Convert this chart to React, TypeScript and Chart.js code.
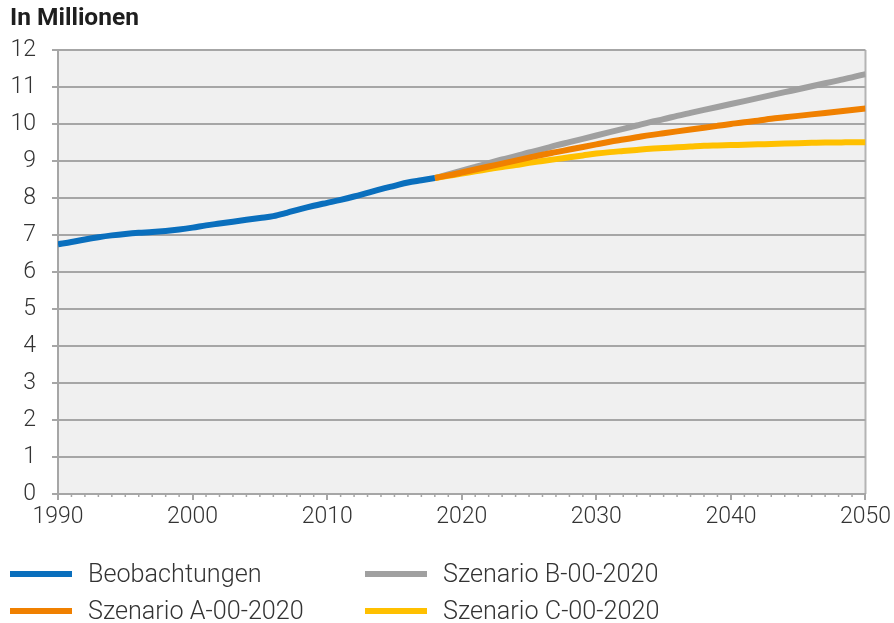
import React, { useEffect, useRef } from "react";
import { Chart, registerables } from "chart.js";

Chart.register(...registerables);

const obsYears = [1990,1991,1992,1993,1994,1995,1996,1997,1998,1999,2000,2001,2002,2003,2004,2005,2006,2007,2008,2009,2010,2011,2012,2013,2014,2015,2016,2017,2018];
const obsValues = [6.75,6.81,6.88,6.94,6.99,7.03,7.06,7.08,7.11,7.15,7.20,7.26,7.31,7.36,7.41,7.46,7.51,7.60,7.70,7.79,7.87,7.95,8.04,8.14,8.24,8.33,8.42,8.48,8.54];

const scenYears = [2018,2019,2020,2021,2022,2023,2024,2025,2026,2027,2028,2029,2030,2031,2032,2033,2034,2035,2036,2037,2038,2039,2040,2041,2042,2043,2044,2045,2046,2047,2048,2049,2050];
const scenA = [8.54,8.61,8.69,8.77,8.85,8.93,9.01,9.09,9.17,9.24,9.31,9.38,9.45,9.52,9.58,9.64,9.70,9.75,9.80,9.85,9.90,9.95,10.00,10.05,10.09,10.14,10.18,10.22,10.26,10.30,10.34,10.38,10.42];
const scenB = [8.54,8.64,8.74,8.84,8.94,9.04,9.13,9.23,9.32,9.42,9.51,9.60,9.69,9.78,9.87,9.96,10.05,10.13,10.22,10.30,10.38,10.46,10.54,10.62,10.70,10.78,10.86,10.94,11.02,11.10,11.18,11.26,11.35];
const scenC = [8.54,8.60,8.66,8.72,8.78,8.84,8.89,8.95,9.00,9.05,9.10,9.15,9.20,9.24,9.27,9.30,9.33,9.35,9.37,9.39,9.41,9.42,9.43,9.44,9.45,9.46,9.47,9.48,9.49,9.50,9.50,9.51,9.51];

const seriesNames = ["Beobachtungen", "Szenario A-00-2020", "Szenario B-00-2020", "Szenario C-00-2020"];
const seriesColors = ["#0a6fbd", "#f08000", "#a0a0a0", "#ffc000"];

const xMin = 1990;
const xMax = 2050;
const yMin = 0;
const yMax = 12;

const FONT = "Roboto, 'Noto Sans', sans-serif";
const TEXT = "#333333";
const GRID = "#a6a6a6";

const pts = (xs: number[], ys: number[]) => xs.map((x, i) => ({ x, y: ys[i] }));

const bgPlugin = {
  id: "plotBg",
  beforeDraw(chart: any) {
    const { ctx, chartArea } = chart;
    ctx.save();
    ctx.fillStyle = "#f0f0f0";
    ctx.fillRect(chartArea.left, chartArea.top, chartArea.right - chartArea.left, chartArea.bottom - chartArea.top);
    ctx.strokeStyle = "#b4b4b4";
    ctx.lineWidth = 2;
    ctx.beginPath();
    ctx.moveTo(chartArea.right, chartArea.top);
    ctx.lineTo(chartArea.right, chartArea.bottom);
    ctx.stroke();
    ctx.restore();
  },
  afterDraw(chart: any) {
    const { ctx, chartArea } = chart;
    const xs = chart.scales.x;
    ctx.save();
    ctx.strokeStyle = GRID;
    ctx.lineWidth = 1.5;
    for (let yr = xMin; yr <= xMax; yr++) {
      if (yr % 10 === 0) continue;
      const px = xs.getPixelForValue(yr);
      ctx.beginPath();
      ctx.moveTo(px, chartArea.bottom);
      ctx.lineTo(px, chartArea.bottom + 3);
      ctx.stroke();
    }
    ctx.restore();
  },
};

export default function App() {
  const ref = useRef<HTMLCanvasElement>(null);
  useEffect(() => {
    if (!ref.current) return;
    const chart = new Chart(ref.current, {
      type: "line",
      data: {
        datasets: [
          { label: seriesNames[0], data: pts(obsYears, obsValues), borderColor: seriesColors[0], order: 0 },
          { label: seriesNames[1], data: pts(scenYears, scenA), borderColor: seriesColors[1], order: 1 },
          { label: seriesNames[2], data: pts(scenYears, scenB), borderColor: seriesColors[2], order: 3 },
          { label: seriesNames[3], data: pts(scenYears, scenC), borderColor: seriesColors[3], order: 2 },
        ].map((d) => ({ ...d, borderWidth: 6, pointRadius: 0, cubicInterpolationMode: "monotone" as const, fill: false, borderCapStyle: "butt" as const })),
      },
      options: {
        animation: false,
        responsive: false,
        maintainAspectRatio: false,
        layout: { padding: { top: 50, right: 28, bottom: 89, left: 0 } },
        plugins: { legend: { display: false }, tooltip: { enabled: false }, title: { display: false } },
        scales: {
          x: {
            type: "linear",
            min: xMin,
            max: xMax,
            afterFit: (s: any) => { s.height = 40; },
            ticks: { stepSize: 10, color: TEXT, padding: 3, font: { family: FONT, size: 23, weight: 300 }, maxRotation: 0, callback: (v: any) => String(v) },
            grid: { drawOnChartArea: false, drawTicks: true, tickLength: 6, color: GRID, lineWidth: 2 },
            border: { display: true, color: GRID, width: 2 },
          },
          y: {
            min: yMin,
            max: yMax,
            afterFit: (s: any) => { s.width = 58; },
            ticks: { stepSize: 1, color: TEXT, padding: 16, font: { family: FONT, size: 23, weight: 300 } },
            grid: { color: GRID, lineWidth: 2, tickLength: 6, drawTicks: true },
            border: { display: true, color: GRID, width: 2 },
          },
        },
      },
      plugins: [bgPlugin],
    });
    return () => chart.destroy();
  }, []);

  const legendPos = [
    { left: 10, top: 574 },
    { left: 10, top: 611 },
    { left: 365, top: 574 },
    { left: 365, top: 611 },
  ];

  return (
    <div style={{ position: "absolute", left: 0, top: 0, width: 894, height: 623, background: "#fff", fontFamily: FONT }}>
      <canvas ref={ref} width={894} height={623} style={{ position: "absolute", left: 0, top: 0 }} />
      <div style={{ position: "absolute", left: 10, top: 3, fontSize: 24.5, fontWeight: 700, color: "#1e1e1e", lineHeight: "28px" }}>In Millionen</div>
      {seriesNames.map((n, i) => (
        <div key={n} style={{ position: "absolute", left: legendPos[i].left, top: legendPos[i].top - 14, height: 28, display: "flex", alignItems: "center" }}>
          <div style={{ width: 62, height: 6, background: seriesColors[i] }} />
          <span style={{ marginLeft: 16, fontSize: 25.2, fontWeight: 300, color: TEXT, lineHeight: "28px" }}>{n}</span>
        </div>
      ))}
    </div>
  );
}
